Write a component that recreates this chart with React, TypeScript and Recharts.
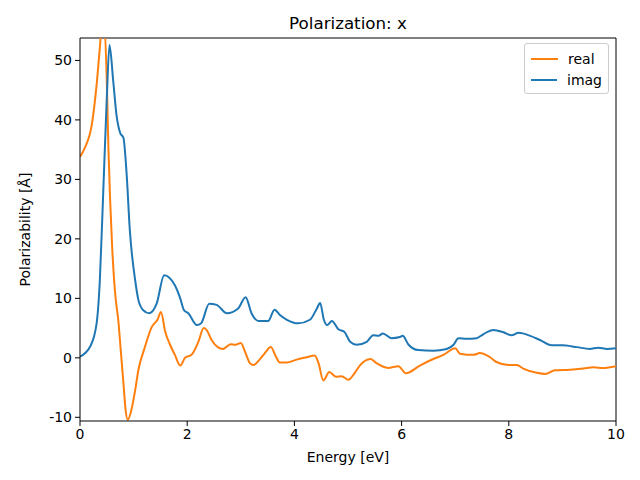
import React from 'react'
import { LineChart, Line, XAxis, YAxis, ReferenceLine, Legend } from 'recharts'

// values (energy in eV, polarizability in Å)
const realEnergy = [
  0, 0.09, 0.22, 0.31, 0.37, 0.43, 0.5, 0.53, 0.56, 0.6, 0.65, 0.72, 0.76, 0.81, 0.85, 0.89, 0.96,
  1.03, 1.09, 1.2, 1.34, 1.45, 1.51, 1.59, 1.68, 1.77, 1.87, 1.96, 2.08, 2.2, 2.31, 2.36, 2.46, 2.57,
  2.67, 2.81, 2.9, 3.0, 3.08, 3.17, 3.24, 3.35, 3.45, 3.56, 3.65, 3.73, 3.86, 4.04, 4.23, 4.38, 4.45,
  4.54, 4.65, 4.78, 4.88, 5.01, 5.12, 5.22, 5.42, 5.53, 5.75, 5.94, 6.08, 6.34, 6.59, 6.78, 7.0, 7.09,
  7.34, 7.46, 7.65, 7.77, 7.99, 8.15, 8.27, 8.52, 8.68, 8.86, 9.14, 9.39, 9.58, 9.76, 10
]
const realValues = [
  33.8, 35.3, 39.2, 45.9, 52.1, 58, 46.5, 35.3, 27.0, 18.6, 11.4, 5.8, 1.3, -4.2, -8.7, -10.4, -8.7,
  -5.4, -2.0, 1.5, 5.2, 6.5, 7.7, 4.4, 2.2, 0.5, -1.3, 0, 0.5, 2.5, 5.0, 4.7, 2.9, 1.8,
  1.5, 2.3, 2.2, 2.5, 1.0, -0.9, -1.2, -0.3, 0.8, 1.8, 0.3, -0.8, -0.8, -0.3, 0.1, 0.4, -0.9,
  -3.8, -2.4, -3.2, -3.1, -3.7, -2.6, -1.3, -0.2, -0.9, -1.7, -1.4, -2.6, -1.3, -0.2, 0.5, 1.6, 0.7,
  0.5, 0.8, 0.1, -0.7, -1.2, -1.2, -1.8, -2.5, -2.7, -2.1, -2.0, -1.8, -1.6, -1.7, -1.4
]

const imagEnergy = [
  0, 0.19, 0.31, 0.37, 0.43, 0.5, 0.55, 0.62, 0.68, 0.75, 0.81, 0.87, 0.93, 1.03, 1.09, 1.18, 1.29,
  1.43, 1.57, 1.77, 1.87, 1.94, 2.02, 2.18, 2.26, 2.41, 2.55, 2.74, 2.95, 3.09, 3.2, 3.33, 3.51, 3.63,
  3.73, 3.86, 4.07, 4.29, 4.42, 4.48, 4.55, 4.61, 4.7, 4.82, 4.93, 5.04, 5.16, 5.35, 5.47, 5.57, 5.65,
  5.81, 5.97, 6.02, 6.13, 6.31, 6.59, 6.84, 6.97, 7.06, 7.21, 7.4, 7.53, 7.71, 7.9, 8.05, 8.18, 8.4,
  8.58, 8.8, 8.99, 9.27, 9.51, 9.67, 9.83, 10
]
const imagValues = [
  0.2, 1.9, 5.8, 13.0, 27, 43.7, 52.6, 46.5, 40.9, 37.8, 37.0, 30.9, 21.4, 13.0, 9.7, 8.0, 7.5,
  9.1, 13.9, 12.2, 10.0, 8.0, 7.5, 5.5, 5.8, 9.1, 8.9, 7.5, 8.3, 10.2, 7.5, 6.2, 6.2, 8.1,
  7.2, 6.4, 5.8, 6.4, 8.3, 9.2, 6.4, 5.5, 6.2, 4.8, 4.4, 2.7, 2.2, 2.7, 3.8, 3.7, 4.1,
  3.3, 3.5, 3.7, 2.2, 1.3, 1.2, 1.5, 2.2, 3.3, 3.2, 3.3, 4.0, 4.7, 4.3, 3.8, 4.2, 3.7,
  3.0, 2.1, 2.1, 1.8, 1.5, 1.7, 1.5, 1.6
]

const xTicks = [0, 2, 4, 6, 8, 10]
const yTicks = [-10, 0, 10, 20, 30, 40, 50]
const legendItems = [
  { label: 'real', color: '#ff7f0e' },
  { label: 'imag', color: '#1f77b4' }
]

const realData = realEnergy.map((e, i) => ({ energy: e, value: realValues[i] }))
const imagData = imagEnergy.map((e, i) => ({ energy: e, value: imagValues[i] }))

const FONT = '"DejaVu Sans", sans-serif'
const Y_MIN = -10.62
const Y_MAX = 53.77
const tickStyle = { fill: '#000', fontSize: 14, fontFamily: FONT }

// matplotlib-like legend box, keeps plotting order (real, imag)
function LegendBox() {
  return (
    <div
      style={{
        border: '1px solid #cccccc',
        borderRadius: 3,
        background: 'rgba(255,255,255,0.8)',
        padding: '4px 6px 3px 6px',
        fontFamily: FONT,
        fontSize: 14,
        color: '#000'
      }}
    >
      {legendItems.map((it) => (
        <div key={it.label} style={{ display: 'flex', alignItems: 'center', height: 21 }}>
          <span style={{ display: 'inline-block', width: 27, height: 2, background: it.color, marginRight: 10 }} />
          <span>{it.label}</span>
        </div>
      ))}
    </div>
  )
}

export default function App() {
  return (
    <div style={{ position: 'absolute', left: 0, top: 0, width: 640, height: 480, background: '#fff' }}>
      <div
        style={{
          position: 'absolute',
          left: 80,
          width: 536,
          top: 13,
          textAlign: 'center',
          fontFamily: FONT,
          fontSize: 16.7,
          lineHeight: '20px',
          color: '#000'
        }}
      >
        Polarization: x
      </div>
      <LineChart width={640} height={480} margin={{ top: 38, right: 24, left: 0, bottom: 0 }}>
        <XAxis
          type="number"
          dataKey="energy"
          domain={[0, 10]}
          ticks={xTicks}
          allowDataOverflow
          height={59}
          tickSize={5}
          tickMargin={3}
          tick={tickStyle}
          stroke="#000"
          tickLine={{ stroke: '#000' }}
          label={{
            content: ({ viewBox }: any) => (
              <text
                x={viewBox.x + viewBox.width / 2}
                y={viewBox.y + 36}
                textAnchor="middle"
                dominantBaseline="central"
                fontFamily={FONT}
                fontSize={14}
                fill="#000"
              >
                Energy [eV]
              </text>
            )
          }}
        />
        <YAxis
          type="number"
          domain={[Y_MIN, Y_MAX]}
          ticks={yTicks}
          allowDataOverflow
          width={80}
          tickSize={5}
          tickMargin={3}
          tick={tickStyle}
          stroke="#000"
          tickLine={{ stroke: '#000' }}
          label={{
            content: ({ viewBox }: any) => {
              const cx = 25
              const cy = viewBox.y + viewBox.height / 2
              return (
                <text
                  x={cx}
                  y={cy}
                  textAnchor="middle"
                  dominantBaseline="central"
                  transform={`rotate(-90, ${cx}, ${cy})`}
                  fontFamily={FONT}
                  fontSize={14}
                  fill="#000"
                >
                  Polarizability [Å]
                </text>
              )
            }
          }}
        />
        <ReferenceLine y={Y_MAX} stroke="#000" />
        <ReferenceLine x={10} stroke="#000" />
        <Line
          data={realData}
          dataKey="value"
          name="real"
          type="monotone"
          stroke="#ff7f0e"
          strokeWidth={2}
          dot={false}
          isAnimationActive={false}
        />
        <Line
          data={imagData}
          dataKey="value"
          name="imag"
          type="monotone"
          stroke="#1f77b4"
          strokeWidth={2}
          dot={false}
          isAnimationActive={false}
        />
        <Legend
          layout="horizontal"
          align="center"
          verticalAlign="middle"
          content={LegendBox}
          wrapperStyle={{ left: 524, top: 43, width: 85, height: 'auto' }}
        />
      </LineChart>
    </div>
  )
}
